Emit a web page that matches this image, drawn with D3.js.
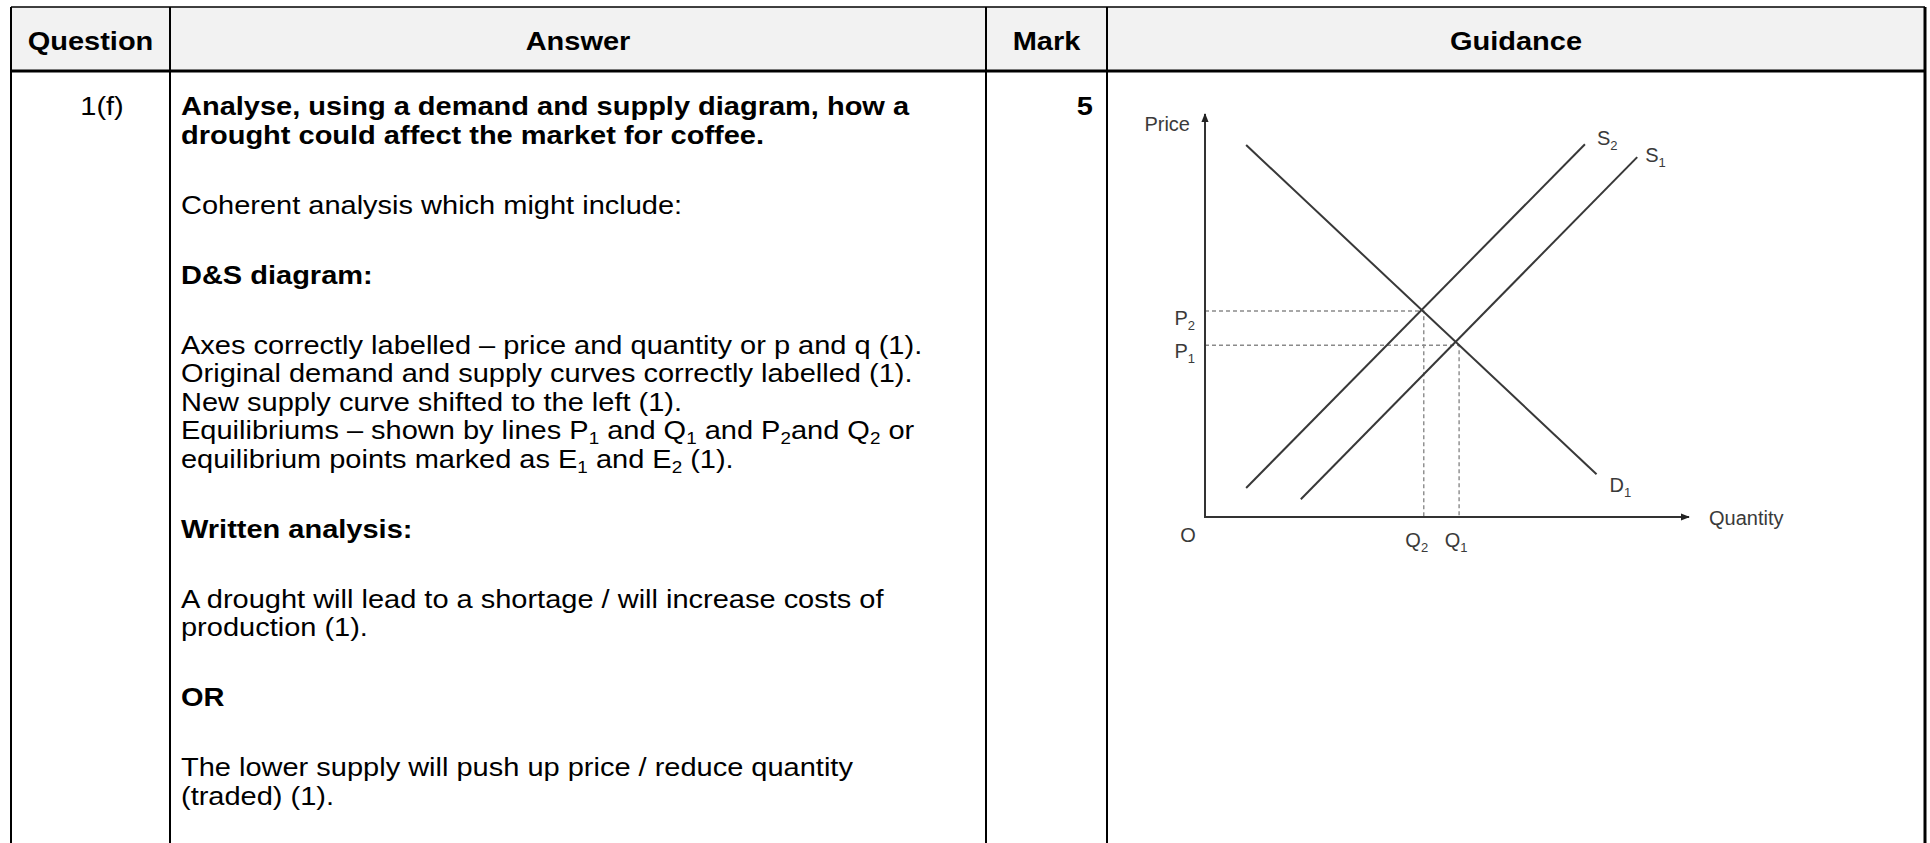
<!DOCTYPE html>
<html>
<head>
<meta charset="utf-8">
<script src="https://cdn.jsdelivr.net/npm/d3@7"></script>
<style>
  body { margin: 0; background: #fff; }
  text { font-family: "Liberation Sans", Arial, sans-serif; }
</style>
</head>
<body>
<script>
/* table text */
const headers = ['Question', 'Answer', 'Mark', 'Guidance'];
const question = '1(f)';
const mark = '5';
// "_x" marks a subscript
const answerParas = [
  { bold: true, lines: ['Analyse, using a demand and supply diagram, how a', 'drought could affect the market for coffee.'] },
  { bold: false, lines: ['Coherent analysis which might include:'] },
  { bold: true, lines: ['D&S diagram:'] },
  { bold: false, lines: [
    'Axes correctly labelled \u2013 price and quantity or p and q (1).',
    'Original demand and supply curves correctly labelled (1).',
    'New supply curve shifted to the left (1).',
    'Equilibriums \u2013 shown by lines P_1 and Q_1 and P_2and Q_2 or',
    'equilibrium points marked as E_1 and E_2 (1).'] },
  { bold: true, lines: ['Written analysis:'] },
  { bold: false, lines: ['A drought will lead to a shortage / will increase costs of', 'production (1).'] },
  { bold: true, lines: ['OR'] },
  { bold: false, lines: ['The lower supply will push up price / reduce quantity', '(traded) (1).'] }
];

/* diagram data (quantity, price) */
const demand1 = [[0.85, 9.23], [8.09, 1.06]];
const supply1 = [[1.98, 0.44], [8.93, 8.93]];
const supply2 = [[0.85, 0.72], [7.85, 9.25]];
const eqQ = [5.25, 4.52];   // Q1, Q2
const eqP = [4.26, 5.11];   // P1, P2

const width = 1930, height = 843;
const cols = [11, 170, 986, 1107, 1925];
const tableTop = 7, headBottom = 71;
const fs = 25, sx = 1.16;   // the picture is stretched sideways

const svg = d3.select('body').append('svg')
  .attr('width', width).attr('height', height);

/* header background */
svg.append('rect').attr('x', cols[0]).attr('y', tableTop)
  .attr('width', cols[4] - cols[0]).attr('height', headBottom - tableTop)
  .attr('fill', '#f2f2f2');

/* grid lines */
svg.append('line').attr('x1', cols[0]).attr('x2', cols[4]).attr('y1', tableTop).attr('y2', tableTop)
  .attr('stroke', '#000').attr('stroke-width', 1.5);
svg.append('line').attr('x1', cols[0]).attr('x2', cols[4]).attr('y1', headBottom).attr('y2', headBottom)
  .attr('stroke', '#000').attr('stroke-width', 3);
svg.selectAll('line.col').data(cols).enter().append('line')
  .attr('class', 'col')
  .attr('x1', d => d).attr('x2', d => d)
  .attr('y1', tableTop).attr('y2', height)
  .attr('stroke', '#000')
  .attr('stroke-width', (d, i) => i === cols.length - 1 ? 3 : 2);

function cellText(x, y, bold, anchor) {
  return svg.append('text')
    .attr('transform', `translate(${x},${y}) scale(${sx},1)`)
    .attr('font-size', fs)
    .attr('font-weight', bold ? 'bold' : 'normal')
    .attr('text-anchor', anchor || 'start');
}

/* headers */
headers.forEach((h, i) => {
  cellText((cols[i] + cols[i + 1]) / 2, 50, true, 'middle').text(h);
});

/* question + mark */
cellText(102, 115, false, 'middle').text(question);
cellText(1093, 115, true, 'end').text(mark);

/* answer text with subscripts */
function addRich(sel, str, size) {
  const parts = str.split(/(_\d)/);
  let sub = false;
  parts.forEach(p => {
    if (p === '') return;
    if (/^_\d$/.test(p)) {
      sel.append('tspan').attr('font-size', size * 0.65).attr('dy', size * 0.2).text(p.slice(1));
      sub = true;
    } else {
      const t = sel.append('tspan').text(p);
      if (sub) { t.attr('dy', -size * 0.2); sub = false; }
    }
  });
}

let y = 115;
answerParas.forEach(para => {
  para.lines.forEach(line => {
    addRich(cellText(181, y, para.bold), line, fs);
    y += 28.5;
  });
  y += 41.5;
});

/* demand and supply diagram */
const xScale = d3.scaleLinear().domain([0, 10]).range([1205, 1689]);
const yScale = d3.scaleLinear().domain([0, 10]).range([517, 114]);
const line = d3.line().x(d => xScale(d[0])).y(d => yScale(d[1]));
const g = svg.append('g');

const defs = svg.append('defs');
defs.append('marker').attr('id', 'arrow')
  .attr('viewBox', '0 0 10 10').attr('refX', 9).attr('refY', 5)
  .attr('markerWidth', 9).attr('markerHeight', 9)
  .attr('markerUnits', 'userSpaceOnUse')
  .attr('orient', 'auto-start-reverse')
  .append('path').attr('d', 'M0,1L10,5L0,9Z').attr('fill', '#222');

/* dashed guides */
eqQ.forEach((q, i) => {
  g.append('path').datum([[0, eqP[i]], [q, eqP[i]], [q, 0]])
    .attr('d', line).attr('fill', 'none')
    .attr('stroke', '#8a8a8a').attr('stroke-width', 1.4)
    .attr('stroke-dasharray', '4,3');
});

/* axes */
g.append('path').datum([[0, 10], [0, 0], [10, 0]])
  .attr('d', line).attr('fill', 'none')
  .attr('stroke', '#333').attr('stroke-width', 2)
  .attr('marker-start', 'url(#arrow)').attr('marker-end', 'url(#arrow)');

/* curves */
[demand1, supply1, supply2].forEach(c => {
  g.append('path').datum(c).attr('d', line).attr('fill', 'none')
    .attr('stroke', '#383838').attr('stroke-width', 2);
});

/* diagram labels */
const lf = '"Open Sans", "DejaVu Sans", sans-serif';
function label(x, yy, main, sub, anchor) {
  const t = g.append('text').attr('x', x).attr('y', yy)
    .attr('font-family', lf).attr('font-size', 20).attr('fill', '#3a3a3a')
    .attr('text-anchor', anchor || 'start');
  t.append('tspan').text(main);
  if (sub) t.append('tspan').attr('font-size', 13).attr('dy', 5).text(sub);
}
label(xScale(0) - 15, yScale(10) + 17, 'Price', null, 'end');
label(xScale(10) + 20, yScale(0) + 8, 'Quantity');
label(xScale(0) - 17, yScale(0) + 25, 'O', null, 'middle');
label(xScale(0) - 10, yScale(eqP[0]) + 13, 'P', '1', 'end');
label(xScale(0) - 10, yScale(eqP[1]) + 14, 'P', '2', 'end');
label(xScale(eqQ[0]) - 3, yScale(0) + 30, 'Q', '1', 'middle');
label(xScale(eqQ[1]) - 7, yScale(0) + 30, 'Q', '2', 'middle');
label(xScale(supply2[1][0]) + 12, yScale(supply2[1][1]) + 1, 'S', '2');
label(xScale(supply1[1][0]) + 8, yScale(supply1[1][1]) + 5, 'S', '1');
label(xScale(demand1[1][0]) + 13, yScale(demand1[1][1]) + 18, 'D', '1');
</script>
</body>
</html>
